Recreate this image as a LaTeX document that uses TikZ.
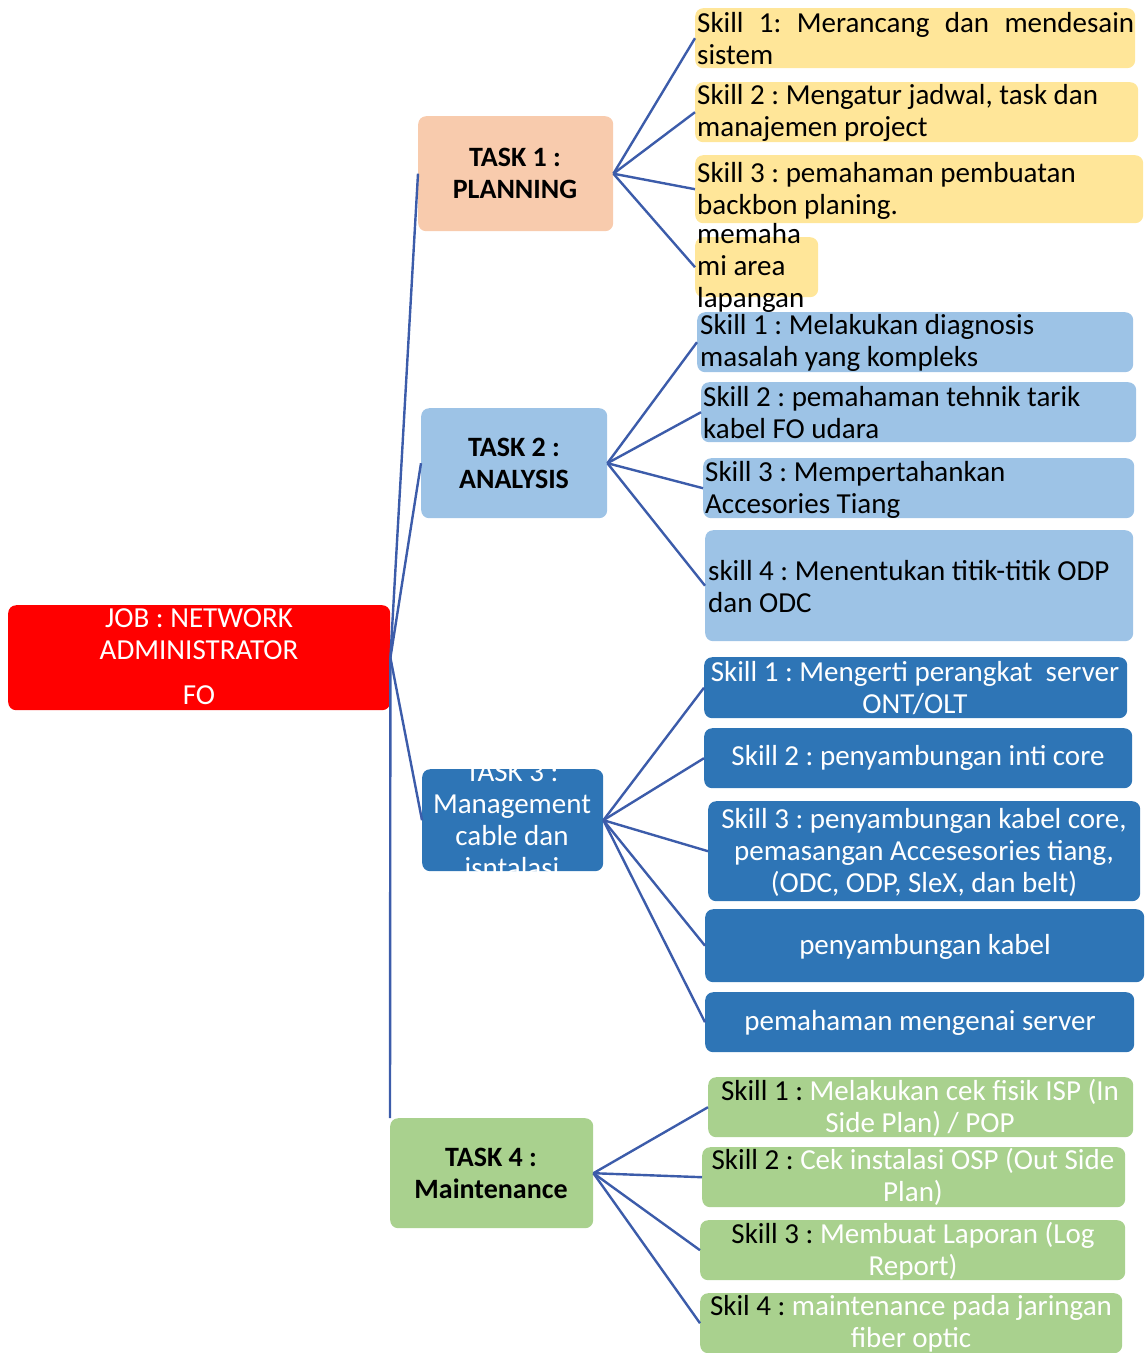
\documentclass[tikz,border=0pt]{standalone}
\usepackage{fontspec}
\setmainfont{Carlito}
\usetikzlibrary{calc}
\definecolor{peach}{HTML}{F8CBAD}
\definecolor{lblue}{HTML}{9DC3E6}
\definecolor{dblue}{HTML}{2E75B6}
\definecolor{lgreen}{HTML}{A9D18E}
\definecolor{lyellow}{HTML}{FFE699}
\definecolor{jred}{HTML}{FF0000}
\definecolor{conncol}{RGB}{60,92,170}
\frenchspacing
\tikzset{
  box/.style={rounded corners=8pt, inner sep=0pt, draw=none, anchor=north west},
  txt/.style={inner sep=0pt, font=\fontsize{29}{32}\selectfont},
  btxt/.style={inner sep=0pt, font=\fontsize{28}{32}\selectfont\bfseries},
  conn/.style={draw=conncol, line width=2.4pt},
}
\begin{document}
\begin{tikzpicture}[x=1pt,y=-1pt]
\useasboundingbox (0,0) rectangle (1145,1353);
% ---------- boxes ----------
\node[box, fill=jred, minimum width=382pt, minimum height=105pt] (job) at (8,605) {};
\node[box, fill=peach, minimum width=195pt, minimum height=115pt] (t1) at (418,116) {};
\node[box, fill=lblue, minimum width=186pt, minimum height=110pt] (t2) at (421,408) {};
\node[box, fill=dblue, minimum width=181pt, minimum height=102pt] (t3) at (422,769) {};
\node[box, fill=lgreen, minimum width=203pt, minimum height=110pt] (t4) at (390,1118) {};
% task 1 skills
\node[box, fill=lyellow, minimum width=440pt, minimum height=60pt] (s11) at (695,8) {};
\node[box, fill=lyellow, minimum width=443pt, minimum height=60pt] (s12) at (695,82) {};
\node[box, fill=lyellow, minimum width=448pt, minimum height=68pt] (s13) at (695,155) {};
\node[box, fill=lyellow, minimum width=123pt, minimum height=60pt] (s14) at (695,237) {};
% task 2 skills
\node[box, fill=lblue, minimum width=436pt, minimum height=60pt] (s21) at (697,312) {};
\node[box, fill=lblue, minimum width=435pt, minimum height=60pt] (s22) at (701,382) {};
\node[box, fill=lblue, minimum width=431pt, minimum height=60pt] (s23) at (703,458) {};
\node[box, fill=lblue, minimum width=428pt, minimum height=111pt] (s24) at (705,530) {};
% task 3 skills
\node[box, fill=dblue, minimum width=423pt, minimum height=61pt] (s31) at (704,657) {};
\node[box, fill=dblue, minimum width=428pt, minimum height=60pt] (s32) at (704,728) {};
\node[box, fill=dblue, minimum width=432pt, minimum height=100pt] (s33) at (708,801) {};
\node[box, fill=dblue, minimum width=439pt, minimum height=73pt] (s34) at (705,909) {};
\node[box, fill=dblue, minimum width=429pt, minimum height=60pt] (s35) at (705,992) {};
% task 4 skills
\node[box, fill=lgreen, minimum width=425pt, minimum height=60pt] (s41) at (708,1077) {};
\node[box, fill=lgreen, minimum width=423pt, minimum height=60pt] (s42) at (702,1147) {};
\node[box, fill=lgreen, minimum width=425pt, minimum height=60pt] (s43) at (700,1220) {};
\node[box, fill=lgreen, minimum width=422pt, minimum height=60pt] (s44) at (700,1293) {};
% ---------- connectors ----------
\draw[conn] (job.east) -- (t1.west);
\draw[conn] (job.east) -- (t2.west);
\draw[conn] (job.east) -- (t3.west);
\draw[conn] (job.east) -- (t4.north west);
\foreach \s in {s11,s12,s13,s14} \draw[conn] (t1.east) -- (\s.west);
\foreach \s in {s21,s22,s23,s24} \draw[conn] (t2.east) -- (\s.west);
\foreach \s in {s31,s32,s33,s34,s35} \draw[conn] (t3.east) -- (\s.west);
\foreach \s in {s41,s42,s43,s44} \draw[conn] (t4.east) -- (\s.west);
% ---------- texts ----------
\node[txt, text=white, align=center] (jobt) at (199,634) {JOB : NETWORK\\ADMINISTRATOR};
\node[txt, text=white] (jobfo) at (199,695) {FO};
\node[btxt, align=center] (t1t) at (515,173) {TASK 1 :\\PLANNING};
\node[btxt, align=center] (t2t) at (514,463) {TASK 2 :\\ANALYSIS};
\begin{scope}
\clip[rounded corners=8pt] (t3.north west) rectangle (t3.south east);
\node[txt, text=white, align=center] (t3t) at (512,820) {TASK 3 :\\Management\\cable dan\\isntalasi};
\end{scope}
\node[btxt, align=center] (t4t) at (491,1173) {TASK 4 :\\Maintenance};
% task 1 skill texts
\node[txt, align=left, anchor=west] (s11t) at (697,39) {\makebox[437pt][s]{Skill\hfill 1:\hfill Merancang\hfill dan\hfill mendesain}\\sistem};
\node[txt, align=left, anchor=west] (s12t) at (697,113) {Skill 2 : Mengatur jadwal, task dan\\manajemen project};
\node[txt, align=left, anchor=west] (s13t) at (697,191) {Skill 3 : pemahaman pembuatan\\backbon planing.};
\node[txt, align=left, anchor=west] (s14t) at (697,268) {memaha\\mi area\\lapangan};
% task 2 skill texts
\node[txt, align=left, anchor=west] (s21t) at (700,343) {Skill 1 : Melakukan diagnosis\\masalah yang kompleks};
\node[txt, align=left, anchor=west] (s22t) at (703,413) {Skill 2 : pemahaman tehnik tarik\\kabel FO udara};
\node[txt, align=left, anchor=west] (s23t) at (705,490) {Skill 3 : Mempertahankan\\Accesories Tiang};
\node[txt, align=left, anchor=west] (s24t) at (708,587) {skill 4 : Menentukan titik-titik ODP\\dan ODC};
% task 3 skill texts
\node[txt, text=white, align=center] (s31t) at (915,688) {Skill 1 : Mengerti perangkat\ \ server\\ONT/OLT};
\node[txt, text=white, align=center] (s32t) at (918,758) {Skill 2 : penyambungan inti core};
\node[txt, text=white, align=center] (s33t) at (924,852) {Skill 3 : penyambungan kabel core,\\pemasangan Accesesories tiang,\\(ODC, ODP, SleX, dan belt)};
\node[txt, text=white, align=center] (s34t) at (925,947) {penyambungan kabel};
\node[txt, text=white, align=center] (s35t) at (920,1023) {pemahaman mengenai server};
% task 4 skill texts
\node[txt, align=center] (s41t) at (920,1108) {Skill 1 : \textcolor{white}{Melakukan cek fisik ISP (In}\\\textcolor{white}{Side Plan) / POP}};
\node[txt, align=center] (s42t) at (913,1177) {Skill 2 : \textcolor{white}{Cek instalasi OSP (Out Side}\\\textcolor{white}{Plan)}};
\node[txt, align=center] (s43t) at (913,1251) {Skill 3 : \textcolor{white}{Membuat Laporan (Log}\\\textcolor{white}{Report)}};
\node[txt, align=center] (s44t) at (911,1324) {Skil 4 : \textcolor{white}{maintenance pada jaringan}\\\textcolor{white}{fiber optic}};
\end{tikzpicture}
\end{document}
